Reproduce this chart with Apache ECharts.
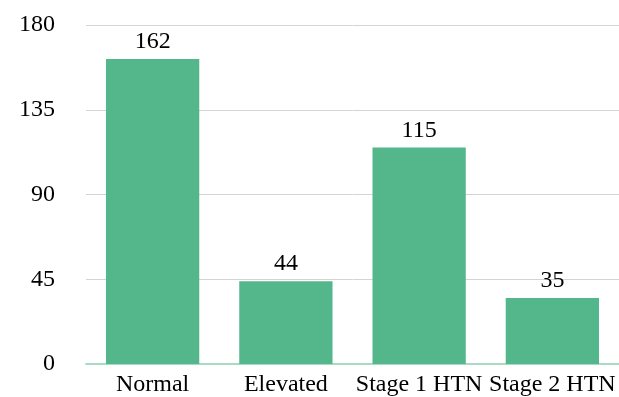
<!DOCTYPE html>
<html>
<head>
<meta charset="utf-8">
<script src="https://cdn.jsdelivr.net/npm/echarts@6/dist/echarts.min.js"></script>
<style>
  html, body { margin: 0; padding: 0; background: #fff; }
  #chart { width: 619px; height: 397px; }
</style>
</head>
<body>
<div id="chart"></div>
<script>
var categories = ['Normal', 'Elevated', 'Stage 1 HTN', 'Stage 2 HTN'];
var counts = [162, 44, 115, 35];
var yTicks = [0, 45, 90, 135, 180];

var chart = echarts.init(document.getElementById('chart'));
var serif = '"Liberation Serif", "DejaVu Serif", serif';

chart.setOption({
    animation: false,
    grid: { left: 86, right: 0, top: 25, bottom: 33 },
    xAxis: {
        type: 'category',
        data: categories,
        axisLine: { lineStyle: { color: '#a9dbc4', width: 2 } },
        axisTick: { show: false },
        axisLabel: { color: '#000', fontFamily: serif, fontSize: 24, margin: 9, interval: 0 }
    },
    yAxis: {
        type: 'value',
        min: yTicks[0],
        max: yTicks[yTicks.length - 1],
        interval: 45,
        axisLine: { show: false },
        axisTick: { show: false },
        splitLine: { lineStyle: { color: '#d4d4d4', width: 1 } },
        axisLabel: { color: '#000', fontFamily: serif, fontSize: 24, margin: 31 }
    },
    series: [{
        type: 'bar',
        data: counts,
        barWidth: '70%',
        itemStyle: { color: '#54b68b' },
        label: {
            show: true,
            position: 'top',
            color: '#000',
            fontFamily: serif,
            fontSize: 24,
            distance: 5
        }
    }]
});
</script>
</body>
</html>
